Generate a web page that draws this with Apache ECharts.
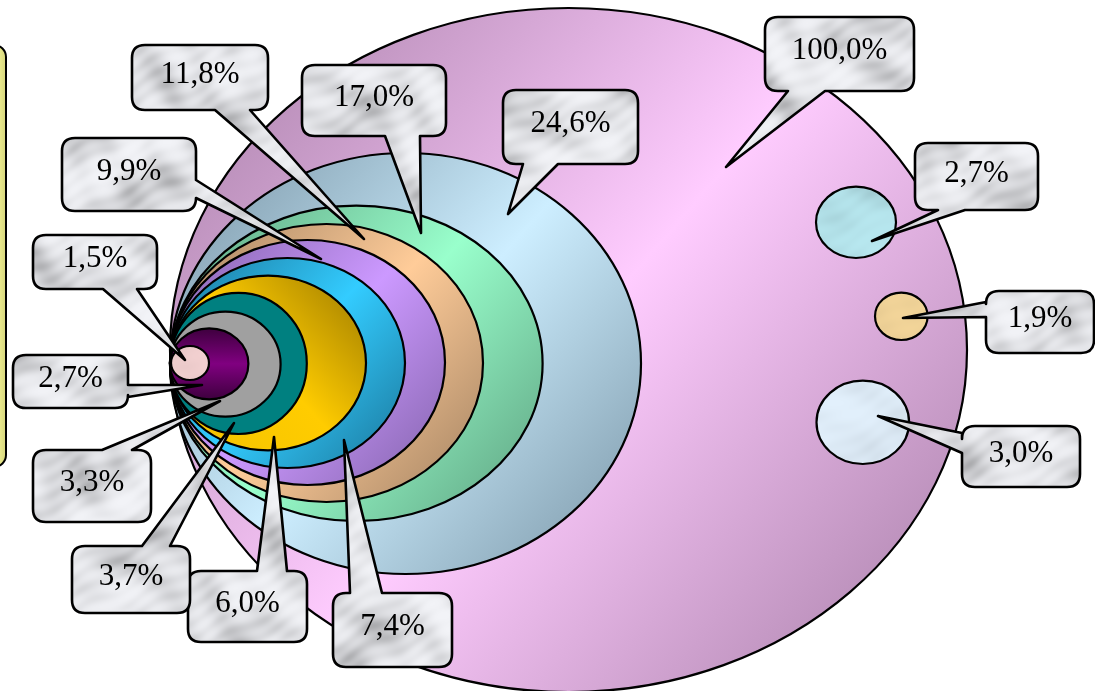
<!DOCTYPE html>
<html>
<head>
<meta charset="utf-8">
<script src="https://cdn.jsdelivr.net/npm/echarts@6/dist/echarts.min.js"></script>
<style>
  html, body { margin: 0; padding: 0; background: #ffffff; }
  #chart { width: 1095px; height: 691px; }
</style>
</head>
<body>
<div id="chart"></div>
<script>
// Shares (percent) of the nested groups, from the whole down to the smallest
const nestedShares = [100.0, 24.6, 17.0, 11.8, 9.9, 7.4, 6.0, 3.7, 3.3, 2.7, 1.5];
// Shares (percent) of the separate groups inside the whole
const separateShares = [2.7, 1.9, 3.0];

// Ellipse geometry in chart units: [centre x, centre y, radius x, radius y]
const nestedGeom = [
  [568.5, 350.0, 398.5, 342.0],
  [405.5, 363.5, 235.5, 210.5],
  [356.3, 363.4, 186.3, 157.7],
  [326.5, 363.0, 156.5, 139.0],
  [307.5, 362.5, 137.5, 122.5],
  [287.5, 363.0, 117.5, 105.0],
  [268.0, 363.0, 98.0, 87.3],
  [238.5, 363.4, 68.3, 70.6],
  [225.3, 364.2, 55.3, 52.5],
  [209.2, 363.8, 39.2, 35.5],
  [190.0, 363.0, 19.0, 17.0]
];
const separateGeom = [
  [856.0, 222.3, 40.0, 35.7],
  [901.3, 316.3, 26.3, 23.7],
  [862.8, 422.3, 46.3, 41.7]
];

// Callouts: [box x0, box y0, box x1, box y1, side (0 top,1 right,2 bottom,3 left), tail base a, tail base b, tip x, tip y]
const nestedCallouts = [
  [765, 17, 914, 91, 2, 788, 825, 726, 167],
  [503, 90, 638, 164, 2, 523, 558, 508, 214],
  [302, 65, 446, 136, 2, 385, 420, 421, 233],
  [132, 45, 268, 110, 2, 215, 250, 364, 239],
  [62, 138, 196, 211, 1, 180, 198, 321, 259],
  [333, 593, 452, 667, 0, 350, 382, 344, 440],
  [188, 571, 307, 642, 0, 257, 287, 274, 437],
  [72, 546, 190, 613, 0, 142, 170, 234, 423],
  [33, 450, 151, 522, 0, 102, 132, 220, 401],
  [13, 355, 128, 408, 1, 385, 397, 202, 385],
  [33, 235, 157, 289, 2, 103, 137, 185, 360]
];
const separateCallouts = [
  [915, 143, 1038, 210, 2, 938, 965, 872, 241],
  [986, 291, 1094, 353, 3, 302, 317, 903, 318],
  [962, 426, 1080, 487, 3, 433, 453, 878, 416]
];

// Side panel (partly outside the view): [x0, y0, x1, y1]
const panelRect = [-40, 45, 6, 467];

const fmt = v => v.toFixed(1).replace('.', ',') + '%';

// Deterministic marble texture used for the callouts and the textured discs
function marble(r, g, b, depth, shift) {
  const w = 1095, h = 691;
  const cv = document.createElement('canvas');
  cv.width = w; cv.height = h;
  const ctx = cv.getContext('2d');
  const img = ctx.createImageData(w, h);
  const d = img.data;
  for (let y = 0; y < h; y++) {
    for (let x = 0; x < w; x++) {
      const xs = x + shift, ys = y + shift * 0.7;
      const u = Math.sin(xs * 0.043 + 2.1 * Math.sin(ys * 0.037))
        + 0.8 * Math.sin(ys * 0.071 + 1.6 * Math.sin(xs * 0.052))
        + 0.6 * Math.sin((xs - ys) * 0.11 + 2.4 * Math.sin((xs + ys) * 0.023))
        + 0.4 * Math.sin((xs + 2 * ys) * 0.19 + 1.3 * Math.sin(xs * 0.09));
      const s = Math.min(1, Math.max(0, (u + 2.8) / 5.6));
      const k = 1 - depth * s * s;
      const i = (y * w + x) * 4;
      d[i] = r * k; d[i + 1] = g * k; d[i + 2] = b * k; d[i + 3] = 255;
    }
  }
  ctx.putImageData(img, 0, 0);
  return { image: cv, repeat: 'no-repeat' };
}

const LG = echarts.graphic.LinearGradient;
const diag = (dark, light) => new LG(0, 0, 1, 1, [
  { offset: 0, color: dark }, { offset: 0.5, color: light }, { offset: 1, color: dark }
]);

const calloutFill = marble(242, 243, 247, 0.3, 0);

const nestedFills = [
  diag('#a47ca4', '#ffccff'),
  diag('#7893a4', '#cdeeff'),
  diag('#5c9e7e', '#99ffcc'),
  diag('#a08060', '#ffcc99'),
  diag('#8262aa', '#cc99ff'),
  diag('#1a7498', '#33ccff'),
  new LG(1, 0, 0, 1, [
    { offset: 0, color: '#9a7800' }, { offset: 0.5, color: '#ffcc00' }, { offset: 1, color: '#f2c200' }
  ]),
  '#008080',
  '#a0a0a0',
  new LG(0, 0, 0, 1, [
    { offset: 0, color: '#3c003c' }, { offset: 0.5, color: '#800080' }, { offset: 1, color: '#3c003c' }
  ]),
  marble(242, 208, 208, 0.1, 200)
];
const separateFills = [
  marble(184, 232, 240, 0.14, 400),
  marble(244, 214, 154, 0.08, 600),
  marble(226, 240, 252, 0.08, 800)
];

const ellipseData = nestedGeom.map((g, i) => g.concat([nestedShares[i]]))
  .concat(separateGeom.map((g, i) => g.concat([separateShares[i]])));
const ellipseFills = nestedFills.concat(separateFills);

const calloutData = nestedCallouts.map((c, i) => c.concat([nestedShares[i]]))
  .concat(separateCallouts.map((c, i) => c.concat([separateShares[i]])));

function calloutPath(x0, y0, x1, y1, side, a, b, tx, ty, r) {
  const p = [];
  p.push('M' + (x0 + r) + ' ' + y0);
  if (side === 0) p.push('L' + a + ' ' + y0, 'L' + tx + ' ' + ty, 'L' + b + ' ' + y0);
  p.push('L' + (x1 - r) + ' ' + y0, 'Q' + x1 + ' ' + y0 + ' ' + x1 + ' ' + (y0 + r));
  if (side === 1) p.push('L' + x1 + ' ' + a, 'L' + tx + ' ' + ty, 'L' + x1 + ' ' + b);
  p.push('L' + x1 + ' ' + (y1 - r), 'Q' + x1 + ' ' + y1 + ' ' + (x1 - r) + ' ' + y1);
  if (side === 2) p.push('L' + b + ' ' + y1, 'L' + tx + ' ' + ty, 'L' + a + ' ' + y1);
  p.push('L' + (x0 + r) + ' ' + y1, 'Q' + x0 + ' ' + y1 + ' ' + x0 + ' ' + (y1 - r));
  if (side === 3) p.push('L' + x0 + ' ' + b, 'L' + tx + ' ' + ty, 'L' + x0 + ' ' + a);
  p.push('L' + x0 + ' ' + (y0 + r), 'Q' + x0 + ' ' + y0 + ' ' + (x0 + r) + ' ' + y0, 'Z');
  return p.join(' ');
}

const chart = echarts.init(document.getElementById('chart'), null, { renderer: 'canvas' });

chart.setOption({
  animation: false,
  backgroundColor: '#ffffff',
  grid: { left: 0, right: 0, top: 0, bottom: 0 },
  xAxis: { type: 'value', min: 0, max: 1095, show: false },
  yAxis: { type: 'value', min: 0, max: 691, inverse: true, show: false },
  series: [
    {
      type: 'custom',
      coordinateSystem: 'cartesian2d',
      silent: true,
      data: [panelRect],
      renderItem: function (params, api) {
        const p0 = api.coord([api.value(0), api.value(1)]);
        const p1 = api.coord([api.value(2), api.value(3)]);
        return {
          type: 'rect',
          shape: { x: p0[0], y: p0[1], width: p1[0] - p0[0], height: p1[1] - p0[1], r: 12 },
          style: {
            fill: new LG(0, 0, 1, 0, [
              { offset: 0, color: '#ffffa4' }, { offset: 0.72, color: '#fbfb9c' }, { offset: 1, color: '#d2d27a' }
            ]),
            stroke: '#000000', lineWidth: 2
          }
        };
      }
    },
    {
      type: 'custom',
      coordinateSystem: 'cartesian2d',
      silent: true,
      data: ellipseData,
      renderItem: function (params, api) {
        const c = api.coord([api.value(0), api.value(1)]);
        const e = api.coord([api.value(0) + api.value(2), api.value(1) + api.value(3)]);
        return {
          type: 'ellipse',
          shape: { cx: c[0], cy: c[1], rx: Math.abs(e[0] - c[0]), ry: Math.abs(e[1] - c[1]) },
          style: { fill: ellipseFills[params.dataIndex], stroke: '#000000', lineWidth: 2.2 }
        };
      }
    },
    {
      type: 'custom',
      coordinateSystem: 'cartesian2d',
      silent: true,
      data: calloutData,
      renderItem: function (params, api) {
        const v = i => api.value(i);
        const p0 = api.coord([v(0), v(1)]);
        const p1 = api.coord([v(2), v(3)]);
        const tip = api.coord([v(7), v(8)]);
        const side = v(4);
        let a, b;
        if (side === 0 || side === 2) {
          a = api.coord([v(5), v(1)])[0]; b = api.coord([v(6), v(1)])[0];
        } else {
          a = api.coord([v(0), v(5)])[1]; b = api.coord([v(0), v(6)])[1];
        }
        const pathData = calloutPath(p0[0], p0[1], p1[0], p1[1], side, a, b, tip[0], tip[1], 13);
        return {
          type: 'group',
          children: [
            {
              type: 'path',
              shape: { pathData: pathData },
              style: { fill: calloutFill, stroke: '#000000', lineWidth: 2.6, lineJoin: 'round' }
            },
            {
              type: 'text',
              style: {
                text: fmt(v(9)),
                x: (p0[0] + p1[0]) / 2,
                y: (p0[1] + p1[1]) / 2 - 3,
                align: 'center',
                verticalAlign: 'middle',
                fontFamily: '"Liberation Serif", "Times New Roman", serif',
                fontSize: 31,
                fill: '#000000'
              }
            }
          ]
        };
      }
    }
  ]
});
</script>
</body>
</html>
